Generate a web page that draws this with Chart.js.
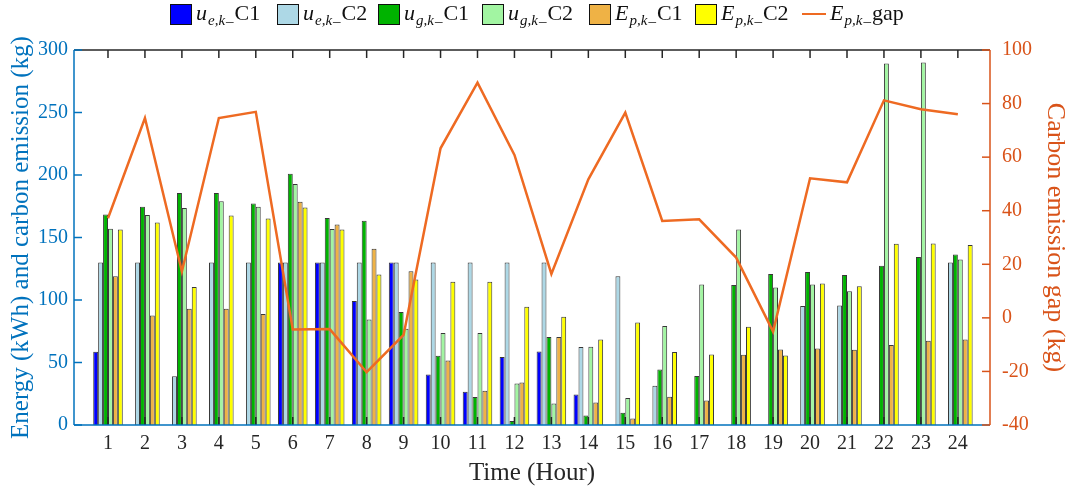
<!DOCTYPE html>
<html>
<head>
<meta charset="utf-8">
<script src="https://cdn.jsdelivr.net/npm/chart.js@4.4.1/dist/chart.umd.min.js"></script>
<style>
  html, body { margin: 0; padding: 0; background: #fff; }
  #wrap { position: relative; width: 1075px; height: 489px; }
  #c { position: absolute; left: 0; top: 0; }
  .leg { position: absolute; top: 1px; height: 26px; display: flex; align-items: center;
         font-family: "Liberation Serif", "DejaVu Serif", serif; font-size: 22px; color: #111; white-space: nowrap; }
  .box { width: 22px; height: 21px; border: 1px solid #111; margin-right: 4px; box-sizing: border-box; flex: none; }
  .ln { width: 24px; height: 2.5px; margin-right: 4px; flex: none; }
  .txt { display: inline-block; line-height: 22px; }
  .txt i { font-style: italic; }
  .txt sub { font-size: 15px; font-style: italic; vertical-align: -5px; line-height: 0; margin-left: 1px; }
  .us { display: inline-block; font-size: 15px; vertical-align: -1px; margin: 0 1px; }
</style>
</head>
<body>
<div id="wrap">
  <canvas id="c" width="1075" height="489"></canvas>
  <div id="legend"></div>
</div>
<script>
// ---------------- data ----------------
const HOURS = [1,2,3,4,5,6,7,8,9,10,11,12,13,14,15,16,17,18,19,20,21,22,23,24];
const UE_C1 = [58.6,0,0,0,0,130,130,99.2,130,40.5,26.7,54.4,58.9,24.5,0,0,0,0,0,0,0,0,0,0];
const UE_C2 = [130,130,39,130,130,130,130,130,130,130,130,130,130,62.4,119,31.5,0,0,0,95.2,95.7,0,0,130];
const UG_C1 = [168.5,174.7,185.6,185.6,177.3,201,165.6,163.5,90.4,55.5,22.4,3.2,70.4,7.7,9.9,44.5,39.2,112,120.8,122.4,120,127.5,134.4,136.5];
const UG_C2 = [157,168,173.6,179,174.7,192.8,156.8,84.5,77,73.6,73.6,33.3,17.3,62.7,21.6,79.2,112.5,156.5,110,112.5,107,289.3,290,132.5];
const EP_C1 = [119,87.7,93,93,88.8,178.7,160.5,141,123,51.7,27.5,34,70.4,18,5.3,22.7,19.7,56.3,60.5,61.3,60.3,64,67.5,68.5];
const EP_C2 = [156.5,162,110.4,167.7,165.3,174,156.5,120.5,116.5,114.7,114.7,94.7,86.7,68.5,82,58.4,56.5,78.7,55.7,113.3,111,145,145.3,144];
const GAP   = [37.2,74.6,17.3,74.6,76.9,-4.3,-4.2,-20.3,-6.4,63.3,87.8,60.8,16.4,51.7,76.6,36.2,36.8,22.5,-5.1,52.1,50.6,81.2,77.9,76];
const LEFT_TICKS = [0,50,100,150,200,250,300];
const RIGHT_TICKS = [-40,-20,0,20,40,60,80,100];

const SERIES = [
  {name: ['u','e,k','C1'], data: UE_C1, color: '#0000FF'},
  {name: ['u','e,k','C2'], data: UE_C2, color: '#ADD8E6'},
  {name: ['u','g,k','C1'], data: UG_C1, color: '#00B300'},
  {name: ['u','g,k','C2'], data: UG_C2, color: '#A2F5A2'},
  {name: ['E','p,k','C1'], data: EP_C1, color: '#EFB245'},
  {name: ['E','p,k','C2'], data: EP_C2, color: '#FFFF00'}
];
const GAP_NAME = ['E','p,k','gap'];
const LINE_COLOR = '#EE6A22';
const BLUE = '#0072BD';
const ORANGE = '#D95319';
const FONT = '"Liberation Serif", "DejaVu Serif", serif';

// ---------------- legend (HTML, with sub-scripts) ----------------
const legendX = [170, 277, 378, 482, 589, 695, 802];
const legendEl = document.getElementById('legend');
function labelHTML(n) { return '<span class="txt"><i>' + n[0] + '</i><sub>' + n[1] + '</sub><span class="us">_</span>' + n[2] + '</span>'; }
SERIES.forEach((s, i) => {
  const d = document.createElement('div');
  d.className = 'leg'; d.style.left = legendX[i] + 'px';
  d.innerHTML = '<div class="box" style="background:' + s.color + '"></div>' + labelHTML(s.name);
  legendEl.appendChild(d);
});
(function(){
  const d = document.createElement('div');
  d.className = 'leg'; d.style.left = legendX[6] + 'px';
  d.innerHTML = '<div class="ln" style="background:' + LINE_COLOR + '"></div>' + labelHTML(GAP_NAME);
  legendEl.appendChild(d);
})();

// ---------------- frame plugin (inward ticks, axis lines) ----------------
const framePlugin = {
  id: 'frame',
  afterDatasetsDraw(chart) {
    const {ctx, chartArea: a, scales} = chart;
    const x = scales.x, y = scales.y, y2 = scales.y2;
    ctx.save();
    ctx.lineWidth = 1.5;
    ctx.strokeStyle = '#262626';
    ctx.beginPath(); ctx.moveTo(a.left, a.top); ctx.lineTo(a.right, a.top); ctx.stroke();
    HOURS.forEach(h => {
      const px = x.getPixelForValue(h);
      ctx.beginPath(); ctx.moveTo(px, a.top); ctx.lineTo(px, a.top + 8); ctx.stroke();
      ctx.beginPath(); ctx.moveTo(px, a.bottom); ctx.lineTo(px, a.bottom - 8); ctx.stroke();
    });
    ctx.strokeStyle = BLUE;
    ctx.beginPath(); ctx.moveTo(a.left, a.bottom); ctx.lineTo(a.right, a.bottom); ctx.stroke();
    ctx.beginPath(); ctx.moveTo(a.left, a.top); ctx.lineTo(a.left, a.bottom); ctx.stroke();
    LEFT_TICKS.forEach(v => {
      const py = y.getPixelForValue(v);
      ctx.beginPath(); ctx.moveTo(a.left, py); ctx.lineTo(a.left + 8, py); ctx.stroke();
    });
    ctx.strokeStyle = ORANGE;
    ctx.beginPath(); ctx.moveTo(a.right, a.top); ctx.lineTo(a.right, a.bottom); ctx.stroke();
    RIGHT_TICKS.forEach(v => {
      const py = y2.getPixelForValue(v);
      ctx.beginPath(); ctx.moveTo(a.right, py); ctx.lineTo(a.right - 8, py); ctx.stroke();
    });
    ctx.restore();
  }
};

// ---------------- chart ----------------
const datasets = SERIES.map(s => ({
  type: 'bar',
  label: s.name.join(''),
  data: HOURS.map((h, i) => ({x: h, y: s.data[i]})),
  backgroundColor: s.color,
  borderColor: 'rgba(20,20,20,0.85)',
  borderWidth: 1,
  borderSkipped: 'bottom',
  categoryPercentage: 0.8,
  barPercentage: 1.0,
  yAxisID: 'y',
  order: 2
}));
datasets.push({
  type: 'line',
  label: GAP_NAME.join(''),
  data: HOURS.map((h, i) => ({x: h, y: GAP[i]})),
  borderColor: LINE_COLOR,
  borderWidth: 2.5,
  pointRadius: 0,
  tension: 0,
  yAxisID: 'y2',
  order: 0
});

new Chart(document.getElementById('c'), {
  data: { datasets },
  options: {
    responsive: false,
    animation: false,
    layout: { padding: { top: 50, left: 0, right: 0, bottom: 0 } },
    plugins: { legend: { display: false }, tooltip: { enabled: false } },
    scales: {
      x: {
        type: 'linear', min: 0.08, max: 24.87, offset: false,
        grid: { display: false, drawTicks: false },
        border: { display: false },
        afterBuildTicks: s => { s.ticks = HOURS.map(v => ({value: v})); },
        afterFit: s => { s.height = 64; },
        ticks: { color: '#262626', font: { family: FONT, size: 20 }, padding: 7, maxRotation: 0, autoSkip: false },
        title: { display: true, text: 'Time (Hour)', color: '#262626', font: { family: FONT, size: 25 }, padding: { top: 1, bottom: 1 } }
      },
      y: {
        position: 'left', min: 0, max: 300,
        grid: { display: false, drawTicks: false },
        border: { display: false },
        afterBuildTicks: s => { s.ticks = LEFT_TICKS.map(v => ({value: v})); },
        afterFit: s => { s.width = 74; },
        ticks: { color: BLUE, font: { family: FONT, size: 20 }, padding: 6 },
        title: { display: true, text: 'Energy (kWh) and carbon emission (kg)', color: BLUE, font: { family: FONT, size: 25 }, padding: { top: 6, bottom: 0 } }
      },
      y2: {
        position: 'right', min: -40, max: 100,
        grid: { display: false, drawTicks: false },
        border: { display: false },
        afterBuildTicks: s => { s.ticks = RIGHT_TICKS.map(v => ({value: v})); },
        afterFit: s => { s.width = 85; },
        ticks: { color: ORANGE, font: { family: FONT, size: 20 }, padding: 12 },
        title: { display: true, text: 'Carbon emission gap (kg)', color: ORANGE, font: { family: FONT, size: 26 }, padding: { top: 5, bottom: 0 } }
      }
    }
  },
  plugins: [framePlugin]
});
</script>
</body>
</html>
